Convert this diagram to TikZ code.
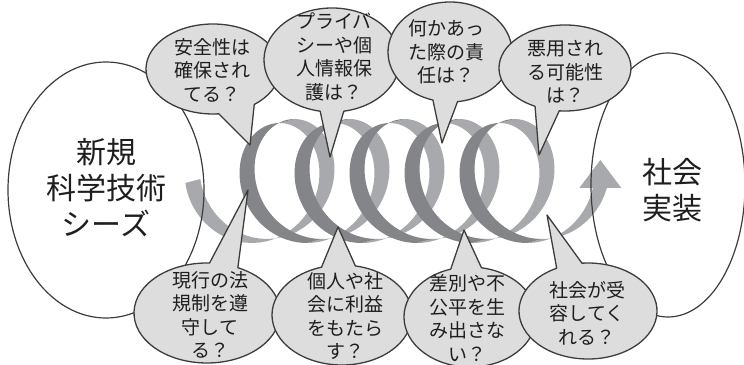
\documentclass[tikz,border=0pt]{standalone}
\usepackage{fontspec}
\newfontfamily\jpfont{Noto Sans CJK JP}
\usetikzlibrary{calc}
\definecolor{bandlight}{RGB}{168,169,172}
\definecolor{banddark}{RGB}{132,133,137}
\definecolor{bubblefill}{RGB}{221,221,221}
\definecolor{edgegray}{RGB}{60,60,60}
\definecolor{textgray}{RGB}{30,30,30}
\tikzset{
    bubble/.style={fill=bubblefill, draw=edgegray, line width=1.3pt, line join=round},
    seedring/.style={draw=edgegray, line width=1.2pt},
    qtext/.style={font=\jpfont\fontsize{19}{23.5}\selectfont, text=textgray, align=center, inner sep=0pt},
    bigtext/.style={font=\jpfont\fontsize{30}{36}\selectfont, text=textgray, align=center, inner sep=0pt}
}
% centre, x radius, y radius, the two tail angles, tail tip
\newcommand{\speechbubble}[6]{%
    \filldraw[bubble] (#1) ++(#5:#2 and #3)
        arc[start angle=#5, end angle=#4+360, x radius=#2, y radius=#3] -- (#6) -- cycle;}
% colour, from, to (radians)
\newcommand{\coilband}[3]{%
    \fill[#1] plot[domain=#2:#3, samples=40] ({hx(\x)},{hy(\x)})
        -- plot[domain=#2:#3, samples=40] ({hx((#2)+(#3)-\x)+15},{hy((#2)+(#3)-\x)+4}) -- cycle;}

\begin{document}
\begin{tikzpicture}[x=1pt, y=1pt,
    declare function={hx(\t)=252+8.7535*\t+53*sin(\t r); hy(\t)=181-60*cos(\t r);}]
    \clip (0,0) rectangle (744,364);

        % Draw the coil.
        \coilband{bandlight}{-pi/2}{pi}
        \foreach \k in {1,...,4}
            {\coilband{bandlight}{2*pi*\k}{2*pi*\k+pi}}
        \coilband{bandlight}{10*pi}{10*pi+1.4875}
        \foreach \k in {0,...,4}
            {\coilband{banddark}{2*pi*\k+pi}{2*pi*\k+2*pi}}

        % Draw the arrow head.
        \coordinate (coilend) at ({hx(10*pi+1.4875)+7.5},{hy(10*pi+1.4875)});
        \fill[bandlight] ($(coilend)+(-21,0)$) -- ($(coilend)+(0,28)$) -- ($(coilend)+(21,0)$) -- cycle;

        % Draw seeds and implementation.
        \draw[seedring] (106,174) ellipse [x radius=98, y radius=128];
        \draw[seedring] (668,179) ellipse [x radius=77, y radius=132];
        \node[bigtext] (seeds) at (106,176) {新規\\科学技術\\シーズ};
        \node[bigtext] (impl) at (672,174) {社会\\実装};

        % Draw top questions.
        \coordinate (tipsafe) at (250,219);
        \coordinate (tipprivacy) at (330,207);
        \coordinate (tipliable) at (442,221);
        \coordinate (tipmisuse) at (539,209);
        \speechbubble{213,295}{67}{45}{-85}{-52}{tipsafe}
        \speechbubble{332,304}{68}{52}{-100}{-80}{tipprivacy}
        \speechbubble{450,312}{62}{50}{-106}{-83}{tipliable}
        \speechbubble{565,296}{66}{43}{-117}{-95}{tipmisuse}
        \node[qtext] (qsafe) at (212,294) {安全性は\\確保され\\てる？};
        \node[qtext] (qprivacy) at (334,307) {プライバ\\シーや個\\人情報保\\護は？};
        \node[qtext] (qliable) at (446,312) {何かあっ\\た際の責\\任は？};
        \node[qtext] (qmisuse) at (565,292) {悪用され\\る可能性\\は？};

        % Draw bottom questions.
        \coordinate (tiplaw) at (248,174);
        \coordinate (tipbenefit) at (338,137);
        \coordinate (tipfair) at (464,134);
        \coordinate (tipaccept) at (547,149);
        \speechbubble{207,51}{73}{50}{65}{88}{tiplaw}
        \speechbubble{342,49}{70}{50}{79}{107}{tipbenefit}
        \speechbubble{470,47}{66}{50}{80}{107}{tipfair}
        \speechbubble{588,53}{69}{48}{95}{117}{tipaccept}
        \node[qtext] (qlaw) at (210,49) {現行の法\\規制を遵\\守して\\る？};
        \node[qtext] (qbenefit) at (345,48) {個人や社\\会に利益\\をもたら\\す？};
        \node[qtext] (qfair) at (467,46) {差別や不\\公平を生\\み出さな\\い？};
        \node[qtext] (qaccept) at (587,51) {社会が受\\容してく\\れる？};
    \end{tikzpicture}
\end{document}
